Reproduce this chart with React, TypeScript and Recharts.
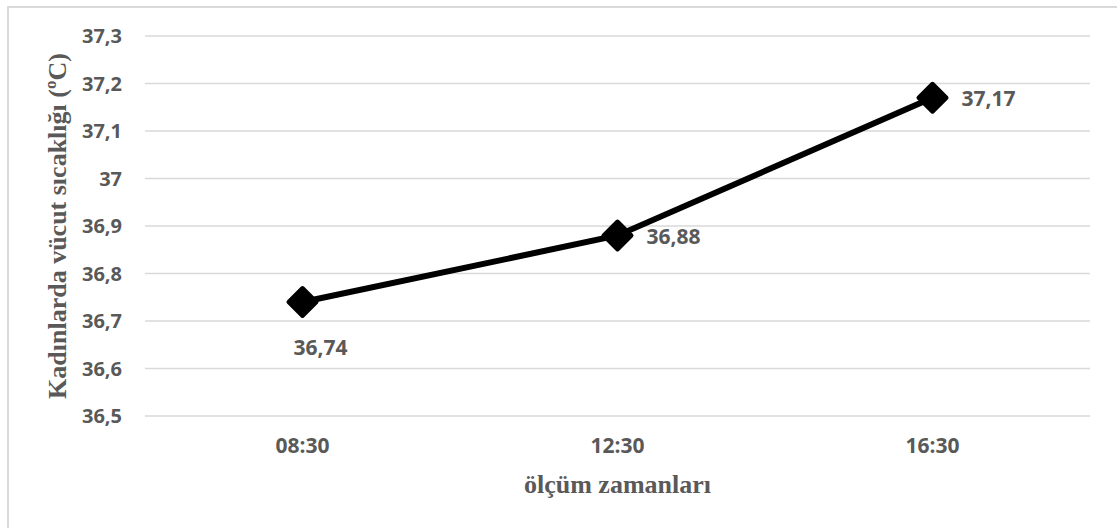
import { LineChart, Line, XAxis, YAxis, CartesianGrid, LabelList, Label } from "recharts";

const times = ["08:30", "12:30", "16:30"];
const temps = [36.74, 36.88, 37.17];
const yTicks = [36.5, 36.6, 36.7, 36.8, 36.9, 37, 37.1, 37.2, 37.3];

const data = times.map((t, i) => ({ time: t, temp: temps[i] }));

const GREY = "#595959";
const SANS = "'Open Sans', 'Noto Sans', sans-serif";
const SERIF = "'Liberation Serif', 'Times New Roman', serif";

const comma = (v: number) => String(v).replace(".", ",");

const Diamond = (props: any) => {
  const { cx, cy } = props;
  if (cx == null || cy == null) return null;
  const r = 14;
  return (
    <polygon
      points={`${cx},${cy - r} ${cx + r},${cy} ${cx},${cy + r} ${cx - r},${cy}`}
      fill="#000"
      stroke="#000"
      strokeWidth={4}
      strokeLinejoin="round"
    />
  );
};

// first point gets its label underneath, the rest sit to the right
const PointLabel = (props: any) => {
  const { x, y, value, index } = props;
  const below = index === 0;
  return (
    <text
      x={below ? x + 18 : x + 29}
      y={below ? y + 45 : y}
      textAnchor={below ? "middle" : "start"}
      dominantBaseline="central"
      fill={GREY}
      fontFamily={SANS}
      fontWeight={700}
      fontSize={21}
    >
      {comma(value)}
    </text>
  );
};

const App = () => {
  return (
    <div style={{ position: "absolute", left: 0, top: 0, width: 1117, height: 528, background: "#fff" }}>
      <div
        style={{
          position: "absolute",
          left: 7,
          top: 6,
          width: 1200,
          height: 600,
          borderLeft: "2px solid #d9d9d9",
          borderTop: "2px solid #d9d9d9",
        }}
      />
      <LineChart
        width={1117}
        height={528}
        data={data}
        margin={{ top: 36, right: 27, bottom: 32, left: 0 }}
        style={{ position: "absolute", left: 0, top: 0 }}
      >
        <CartesianGrid vertical={false} stroke="#d9d9d9" strokeWidth={1.5} />
        <XAxis
          dataKey="time"
          height={80}
          padding={{ left: 157.5, right: 157.5 }}
          axisLine={false}
          tickLine={false}
          tickSize={0}
          tickMargin={22}
          tick={{ fill: GREY, fontFamily: SANS, fontWeight: 700, fontSize: 21 }}
        >
          <Label
            content={({ viewBox }: any) => (
              <text
                x={viewBox.x + viewBox.width / 2}
                y={viewBox.y + 68}
                textAnchor="middle"
                dominantBaseline="central"
                fill={GREY}
                fontFamily={SERIF}
                fontWeight={700}
                fontSize={26}
              >
                ölçüm zamanları
              </text>
            )}
          />
        </XAxis>
        <YAxis
          width={145}
          domain={[36.5, 37.3]}
          ticks={yTicks}
          axisLine={false}
          tickLine={false}
          tickSize={0}
          tickMargin={23}
          tickFormatter={comma}
          tick={{ fill: GREY, fontFamily: SANS, fontWeight: 700, fontSize: 20 }}
        >
          <Label
            content={({ viewBox }: any) => {
              const cx = viewBox.x + 57;
              const cy = viewBox.y + viewBox.height / 2;
              return (
                <text
                  x={cx}
                  y={cy}
                  transform={`rotate(-90 ${cx} ${cy})`}
                  textAnchor="middle"
                  dominantBaseline="central"
                  fill={GREY}
                  fontFamily={SERIF}
                  fontWeight={700}
                  fontSize={26}
                >
                  Kadınlarda vücut sıcaklığı (ºC)
                </text>
              );
            }}
          />
        </YAxis>
        <Line
          type="linear"
          dataKey="temp"
          stroke="#000"
          strokeWidth={6}
          dot={<Diamond />}
          activeDot={false}
          isAnimationActive={false}
        >
          <LabelList dataKey="temp" content={<PointLabel />} />
        </Line>
      </LineChart>
    </div>
  );
};

export default App;
